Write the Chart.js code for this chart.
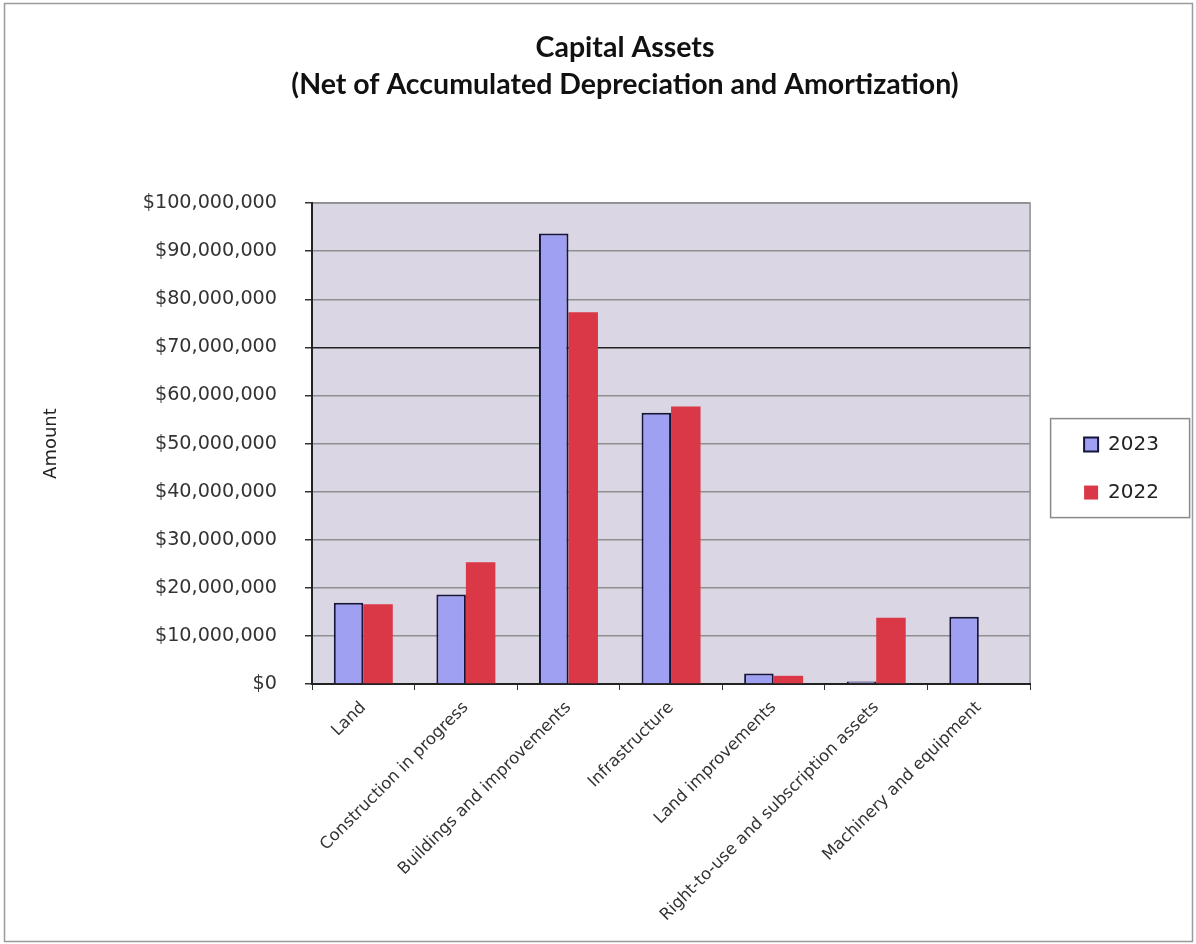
<!DOCTYPE html>
<html>
<head>
<meta charset="utf-8">
<script src="https://cdn.jsdelivr.net/npm/chart.js@4.4.1/dist/chart.umd.min.js"></script>
<style>
  html, body { margin: 0; padding: 0; background: #fff; }
  #wrap { width: 1196px; height: 944px; }
</style>
</head>
<body>
<div id="wrap"><canvas id="chart-capital" width="1196" height="944"></canvas></div>
<script>
// ═══════════════════════════════════════════
// DATA
// ═══════════════════════════════════════════
const categories = [
  'Land',
  'Construction in progress',
  'Buildings and improvements',
  'Infrastructure',
  'Land improvements',
  'Right-to-use and subscription assets',
  'Machinery and equipment'
];
const values2023 = [16900000, 18600000, 93700000, 56400000, 2200000, 500000, 14000000];
const values2022 = [16600000, 25300000, 77300000, 57700000, 1700000, 13800000, 0];
const seriesLabels = ['2023', '2022'];
const titleLines = ['Capital Assets', '(Net of Accumulated Depreciation and Amortization)'];
const yAxisTitle = 'Amount';
const yMax = 100000000;
const yStep = 10000000;

const FONT = "'DejaVu Sans', sans-serif";
const FONT_TITLE = "Lato, 'Open Sans', sans-serif";

// ═══════════════════════════════════════════
// PLUGINS
// ═══════════════════════════════════════════

// white page, outer frame and grey plot area
const backgroundPlugin = {
  id: 'background',
  beforeDraw(chart) {
    const { ctx, chartArea: a } = chart;
    ctx.save();
    ctx.fillStyle = '#fff';
    ctx.fillRect(0, 0, chart.width, chart.height);
    ctx.strokeStyle = '#9a9a9a';
    ctx.lineWidth = 1.5;
    ctx.strokeRect(4.5, 3.5, chart.width - 8, chart.height - 6);
    ctx.fillStyle = '#dad6e4';
    ctx.fillRect(a.left, a.top, a.width, a.height);
    ctx.strokeStyle = '#8f8f8f';
    ctx.lineWidth = 1.5;
    ctx.strokeRect(a.left, a.top, a.width, a.height);
    ctx.restore();
  }
};

// move title and legend where the original has them
const placementPlugin = {
  id: 'placement',
  afterLayout(chart) {
    const a = chart.chartArea;
    const lg = chart.legend;
    if (lg) {
      const w = lg.right - lg.left;
      lg.left = a.right + 26;
      lg.right = lg.left + w;
      lg.top = a.top + 25;
      lg.bottom = a.bottom + 25;
    }
    const t = chart.titleBlock;
    if (t) {
      const shift = 625 - (t.left + t.right) / 2;
      t.left += shift;
      t.right += shift;
    }
  },
  afterDraw(chart) {
    const { ctx, chartArea: a } = chart;
    ctx.save();
    ctx.strokeStyle = '#8a8a8a';
    ctx.lineWidth = 1.5;
    ctx.strokeRect(a.right + 20.5, a.top + 215.5, 139, 99);
    ctx.restore();
  }
};

// ═══════════════════════════════════════════
// CHART
// ═══════════════════════════════════════════
const ctx = document.getElementById('chart-capital').getContext('2d');

new Chart(ctx, {
  type: 'bar',
  data: {
    labels: categories,
    datasets: [
      {
        label: seriesLabels[0],
        data: values2023,
        backgroundColor: '#a0a0f2',
        borderColor: '#15153a',
        borderWidth: 2,
        borderSkipped: 'bottom'
      },
      {
        label: seriesLabels[1],
        data: values2022,
        backgroundColor: '#da3747',
        borderColor: '#da3747',
        borderWidth: 0
      }
    ]
  },
  options: {
    responsive: false,
    animation: false,
    events: [],
    datasets: {
      bar: { categoryPercentage: 0.575, barPercentage: 1 }
    },
    layout: { padding: { left: 0, top: 0, right: 53, bottom: 0 } },
    plugins: {
      title: {
        display: true,
        text: titleLines,
        color: '#111',
        font: { family: FONT_TITLE, size: 28.5, weight: 'bold', lineHeight: 1.3 },
        padding: { top: 29, bottom: 100 }
      },
      legend: {
        display: true,
        position: 'right',
        labels: {
          font: { family: FONT, size: 20 },
          color: '#222',
          boxWidth: 14,
          boxHeight: 14,
          padding: 28
        }
      },
      tooltip: { enabled: false }
    },
    scales: {
      x: {
        offset: true,
        grid: {
          display: true,
          drawOnChartArea: false,
          drawTicks: true,
          tickLength: 6,
          tickColor: '#333',
          offset: true
        },
        border: { display: true, color: '#222', width: 2 },
        ticks: {
          autoSkip: false,
          maxRotation: 45,
          minRotation: 45,
          padding: 8,
          color: '#333',
          font: { family: FONT, size: 16.5 }
        },
        afterFit(scale) { scale.height = 260; }
      },
      y: {
        min: 0,
        max: yMax,
        title: {
          display: true,
          text: yAxisTitle,
          color: '#222',
          font: { family: FONT, size: 18 },
          padding: { top: 41, bottom: 0 }
        },
        grid: {
          color: c => (c.tick && c.tick.value === 70000000 ? '#222' : '#8f8f8f'),
          lineWidth: 1.5,
          tickLength: 7,
          tickColor: '#333'
        },
        border: { display: true, color: '#222', width: 2 },
        ticks: {
          stepSize: yStep,
          padding: 28,
          color: '#333',
          font: { family: FONT, size: 19.2 },
          callback: v => '$' + v.toLocaleString('en-US')
        },
        afterFit(scale) { scale.width = 312; }
      }
    }
  },
  plugins: [backgroundPlugin, placementPlugin]
});
</script>
</body>
</html>
